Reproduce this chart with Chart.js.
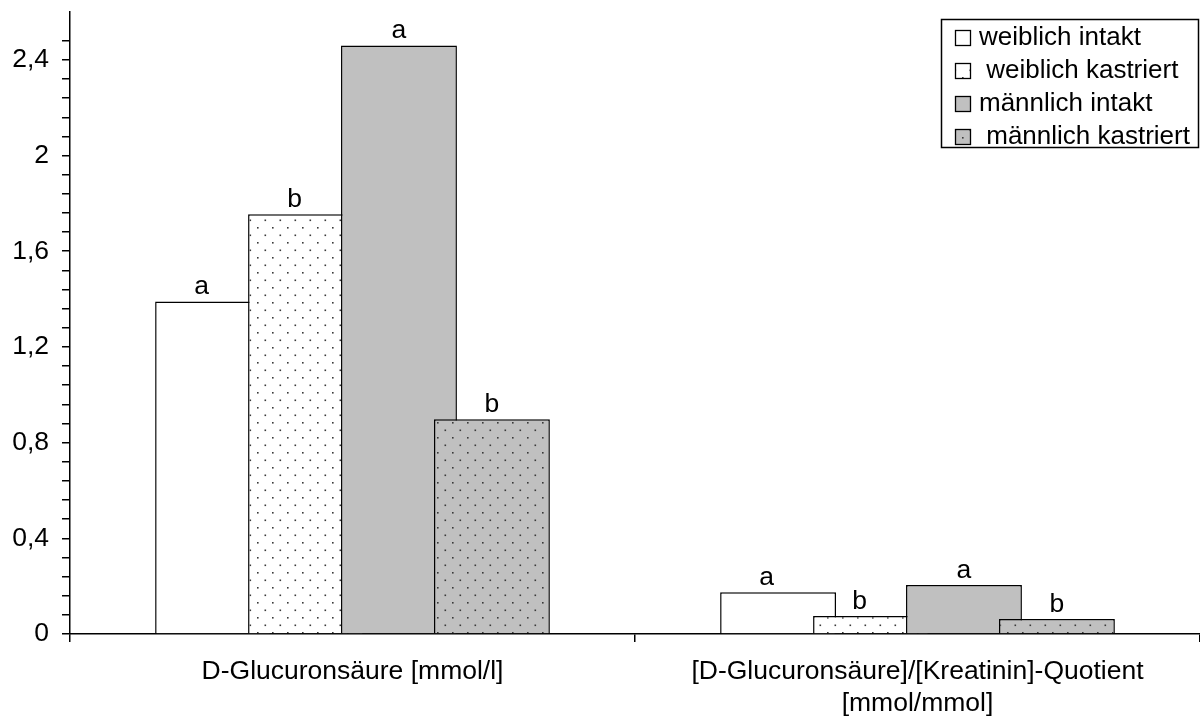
<!DOCTYPE html>
<html>
<head>
<meta charset="utf-8">
<script src="https://cdn.jsdelivr.net/npm/chart.js@4.4.1/dist/chart.umd.min.js"></script>
<style>
  html, body { margin: 0; background: #fff; }
  canvas { display: block; }
</style>
</head>
<body>
<canvas id="chart" width="1200" height="719"></canvas>
<script>
// Daten
const categories = [
  'D-Glucuronsäure [mmol/l]',
  ['[D-Glucuronsäure]/[Kreatinin]-Quotient', '[mmol/mmol]']
];
const seriesNames = ['weiblich intakt', ' weiblich kastriert', 'männlich intakt', ' männlich kastriert'];
const weiblichIntakt = [1.39, 0.175];
const weiblichKastriert = [1.755, 0.075];
const maennlichIntakt = [2.46, 0.205];
const maennlichKastriert = [0.898, 0.063];
const sigLetters = [['a', 'a'], ['b', 'b'], ['a', 'a'], ['b', 'b']];
const yTickLabels = ['0', '0,4', '0,8', '1,2', '1,6', '2', '2,4'];
const yMax = 2.6;
const yMinorStep = 0.08;
const yMajorStep = 0.4;

const FONT = "'Liberation Sans', Arial, Helvetica, sans-serif";
const GRAY = '#c0c0c0';

// Punktraster wie im Original
function dotPattern(bg) {
  const tile = document.createElement('canvas');
  tile.width = 15;
  tile.height = 15;
  const t = tile.getContext('2d');
  t.fillStyle = bg;
  t.fillRect(0, 0, 15, 15);
  t.fillStyle = '#3a3a3a';
  t.fillRect(2, 2, 1.6, 1.6);
  t.fillRect(9.5, 9.5, 1.6, 1.6);
  return document.getElementById('chart').getContext('2d').createPattern(tile, 'repeat');
}

const fills = ['#ffffff', dotPattern('#ffffff'), GRAY, dotPattern(GRAY)];
const seriesValues = [weiblichIntakt, weiblichKastriert, maennlichIntakt, maennlichKastriert];

// Balken in Reihenfolge zeichnen, spätere liegen oben (wie Excel-Überlappung)
const drawOrderPlugin = {
  id: 'drawOrder',
  beforeDatasetsDraw(chart) {
    chart.data.datasets.forEach((ds, i) => {
      const meta = chart.getDatasetMeta(i);
      if (!meta.hidden) meta.controller.draw();
    });
    return false;
  }
};

// Buchstaben über den Balken
const letterPlugin = {
  id: 'letters',
  afterDraw(chart) {
    const ctx = chart.ctx;
    ctx.save();
    ctx.font = '26.5px ' + FONT;
    ctx.fillStyle = '#000';
    ctx.textAlign = 'center';
    ctx.textBaseline = 'alphabetic';
    chart.data.datasets.forEach((ds, i) => {
      const meta = chart.getDatasetMeta(i);
      meta.data.forEach((bar, j) => {
        let x = bar.x;
        if (i < 2) {
          const next = chart.getDatasetMeta(i + 1).data[j];
          x = bar.x - bar.width / 2 + (next.x - bar.x) / 2;
        }
        ctx.fillText(sigLetters[i][j], x, bar.y - 7);
      });
    });
    ctx.restore();
  }
};

// Legende oben rechts im Diagrammbereich
const legendPlugin = {
  id: 'boxLegend',
  afterDraw(chart) {
    const ctx = chart.ctx;
    ctx.save();
    ctx.lineWidth = 1.5;
    ctx.strokeStyle = '#000';
    ctx.fillStyle = '#fff';
    ctx.fillRect(941, 19, 258, 129);
    ctx.strokeRect(941.5, 19.5, 257, 128);
    ctx.font = '26px ' + FONT;
    ctx.textBaseline = 'middle';
    chart.data.datasets.forEach((ds, i) => {
      const cy = 38 + i * 33;
      ctx.fillStyle = ds.backgroundColor;
      ctx.fillRect(955, cy - 8, 16, 16);
      ctx.lineWidth = 1.3;
      ctx.strokeRect(955.5, cy - 7.5, 15, 15);
      ctx.fillStyle = '#000';
      ctx.fillText(ds.label, 979, cy);
    });
    ctx.restore();
  }
};

new Chart(document.getElementById('chart'), {
  type: 'bar',
  data: {
    labels: categories,
    datasets: seriesNames.map((name, i) => ({
      label: name,
      data: seriesValues[i],
      backgroundColor: fills[i],
      borderColor: '#000',
      borderWidth: 1.5,
      categoryPercentage: 0.658,
      barPercentage: 1.247
    }))
  },
  options: {
    responsive: false,
    animation: false,
    devicePixelRatio: 1,
    layout: { padding: { top: 12, right: 0, left: 0, bottom: 0 } },
    plugins: {
      legend: { display: false },
      tooltip: { enabled: false }
    },
    scales: {
      x: {
        offset: true,
        grid: {
          offset: true,
          drawOnChartArea: false,
          drawTicks: true,
          tickLength: 8,
          color: '#000',
          lineWidth: 1.5
        },
        border: { color: '#000', width: 1.5 },
        ticks: {
          color: '#000',
          font: { family: FONT, size: 26.5 },
          padding: 14,
          maxRotation: 0,
          autoSkip: false
        },
        afterFit(scale) {
          scale.height = 85;
          scale.paddingLeft = 0;
          scale.paddingRight = 0;
        }
      },
      y: {
        min: 0,
        max: yMax,
        grid: {
          drawOnChartArea: false,
          drawTicks: true,
          tickLength: 8,
          color: '#000',
          lineWidth: 1.5
        },
        border: { color: '#000', width: 1.5 },
        ticks: {
          stepSize: yMinorStep,
          autoSkip: false,
          color: '#000',
          font: { family: FONT, size: 26.5 },
          padding: 13,
          callback(value) {
            const k = value / yMajorStep;
            if (Math.abs(k - Math.round(k)) < 1e-6) return yTickLabels[Math.round(k)];
            return '';
          }
        },
        afterBuildTicks(scale) {
          scale.ticks = scale.ticks.filter(t => t.value <= yMax - yMinorStep / 2);
        },
        afterFit(scale) {
          scale.width = 70;
          scale.paddingTop = 0;
          scale.paddingBottom = 0;
        }
      }
    }
  },
  plugins: [drawOrderPlugin, letterPlugin, legendPlugin]
});
</script>
</body>
</html>
